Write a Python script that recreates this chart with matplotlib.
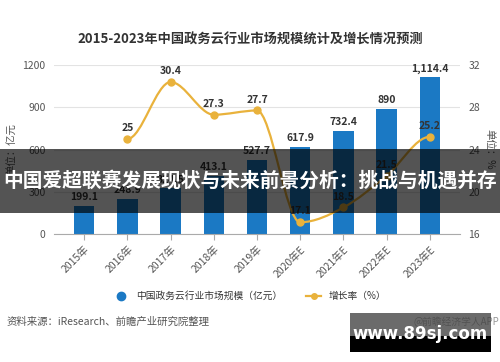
import matplotlib
matplotlib.use("Agg")
import matplotlib.pyplot as plt
from matplotlib.path import Path
from matplotlib.patches import PathPatch, Rectangle
from matplotlib.lines import Line2D

plt.rcParams['font.family'] = ['Noto Sans CJK SC', 'DejaVu Sans']

years = ['2015年', '2016年', '2017年', '2018年', '2019年',
         '2020年E', '2021年E', '2022年E', '2023年E']
market = [199.1, 248.9, 324.5, 413.1, 527.7, 617.9, 732.4, 890, 1114.4]
market_labels = ['199.1', '248.9', '324.5', '413.1', '527.7', '617.9', '732.4', '890', '1,114.4']
growth = [25, 30.4, 27.3, 27.7, 17.1, 18.5, 21.5, 25.2]   # 2016 .. 2023E

bar_color = '#1b79c4'
line_color = '#e9b23c'
grid_color = '#e3e3e3'
txt_dark = '#333333'
txt_gray = '#555555'

fig = plt.figure(figsize=(5, 3.62), dpi=100)
ax = fig.add_axes([0.108, 0.354, 0.812, 0.466])
ax2 = ax.twinx()

x = list(range(len(years)))
ax.bar(x, market, width=0.47, color=bar_color, zorder=2)
for xi, v, s in zip(x, market, market_labels):
    ax.text(xi, v + 25, s, ha='center', va='bottom', fontsize=7.5,
            fontweight='bold', color=txt_dark, zorder=5)

ax.set_xlim(-0.7, 8.7)
ax.set_ylim(0, 1200)
ax.set_yticks([0, 300, 600, 900, 1200])
ax.grid(axis='y', color=grid_color, linewidth=0.8, zorder=0)
ax.set_axisbelow(True)
for sp in ['top', 'right', 'left']:
    ax.spines[sp].set_visible(False)
ax.spines['bottom'].set_color('#aaaaaa')
ax.tick_params(axis='y', length=0, labelsize=7.5, labelcolor=txt_gray, pad=6)
ax.tick_params(axis='x', length=4, color='#aaaaaa', labelsize=7.5, labelcolor=txt_gray)
ax.set_xticks(x)
ax.set_xticklabels(years, rotation=45, ha='right', rotation_mode='anchor')
ax.set_ylabel('单位：亿元', fontsize=7.5, color=txt_gray, labelpad=4)

# smooth growth line
gx = x[1:]
n = len(growth)
tang = []
for i in range(n):
    if i == 0 or i == n - 1:
        tang.append(0.0)
    else:
        a, b, c = growth[i - 1], growth[i], growth[i + 1]
        if (b - a) * (c - b) <= 0:
            tang.append(0.0)
        else:
            tang.append((c - a) / 2)
verts = [(gx[0], growth[0])]
codes = [Path.MOVETO]
for i in range(n - 1):
    verts += [(gx[i] + 1 / 3, growth[i] + tang[i] / 3),
              (gx[i + 1] - 1 / 3, growth[i + 1] - tang[i + 1] / 3),
              (gx[i + 1], growth[i + 1])]
    codes += [Path.CURVE4] * 3
ax2.add_patch(PathPatch(Path(verts, codes), fill=False, edgecolor=line_color,
                        linewidth=1.6, zorder=4))
ax2.plot(gx, growth, 'o', color=line_color, markersize=5, zorder=5)
for xi, v in zip(gx, growth):
    ax2.text(xi, v + 0.55, f'{v:g}', ha='center', va='bottom', fontsize=7.5,
             fontweight='bold', color=txt_dark, zorder=6)

ax2.set_ylim(16, 32)
ax2.set_yticks([16, 20, 24, 28, 32])
for sp in ax2.spines.values():
    sp.set_visible(False)
ax2.tick_params(axis='y', length=0, labelsize=7.5, labelcolor=txt_gray, pad=6)
ax2.set_ylabel('单位：%', fontsize=7.5, color=txt_gray, rotation=270, labelpad=10)

fig.text(0.5, 0.89, '2015-2023年中国政务云行业市场规模统计及增长情况预测',
         ha='center', va='center', fontsize=9.5, fontweight='bold', color='#333333')

handles = [Line2D([], [], marker='o', linestyle='none', color=bar_color, markersize=6),
           Line2D([], [], marker='o', color=line_color, markersize=4, linewidth=1.6)]
fig.legend(handles, ['中国政务云行业市场规模（亿元）', '增长率（%）'], loc='center',
           bbox_to_anchor=(0.5, 0.182), ncol=2, frameon=False, fontsize=7,
           handlelength=1.5, columnspacing=2.5, labelcolor=txt_dark)

fig.text(0.014, 0.11, '资料来源：iResearch、前瞻产业研究院整理', ha='left', va='center',
         fontsize=7.5, color=txt_gray)
fig.text(0.998, 0.11, '@前瞻经济学人APP', ha='right', va='center', fontsize=7, color='#999999')

# overlay banner
fig.patches.append(Rectangle((0, 0.4116), 1, 0.1768, transform=fig.transFigure,
                             facecolor='black', alpha=0.67, zorder=10))
fig.text(0.5, 0.5, '中国爱超联赛发展现状与未来前景分析：挑战与机遇并存', ha='center',
         va='center', fontsize=14.2, fontweight='bold', color='white', zorder=11)

# site watermark box
fig.patches.append(Rectangle((0.70, 0.0718), 0.282, 0.0635, transform=fig.transFigure,
                             facecolor='#3a3a3a', alpha=0.75, zorder=10))
fig.patches.append(Rectangle((0.70, 0.0276), 0.282, 0.0442, transform=fig.transFigure,
                             facecolor='black', zorder=10))
fig.text(0.84, 0.077, 'www.89sj.com', ha='center', va='center', fontsize=12,
         fontweight='bold', color='white', family='DejaVu Sans', zorder=11)

fig.savefig('out.png', dpi=100, facecolor='white')
